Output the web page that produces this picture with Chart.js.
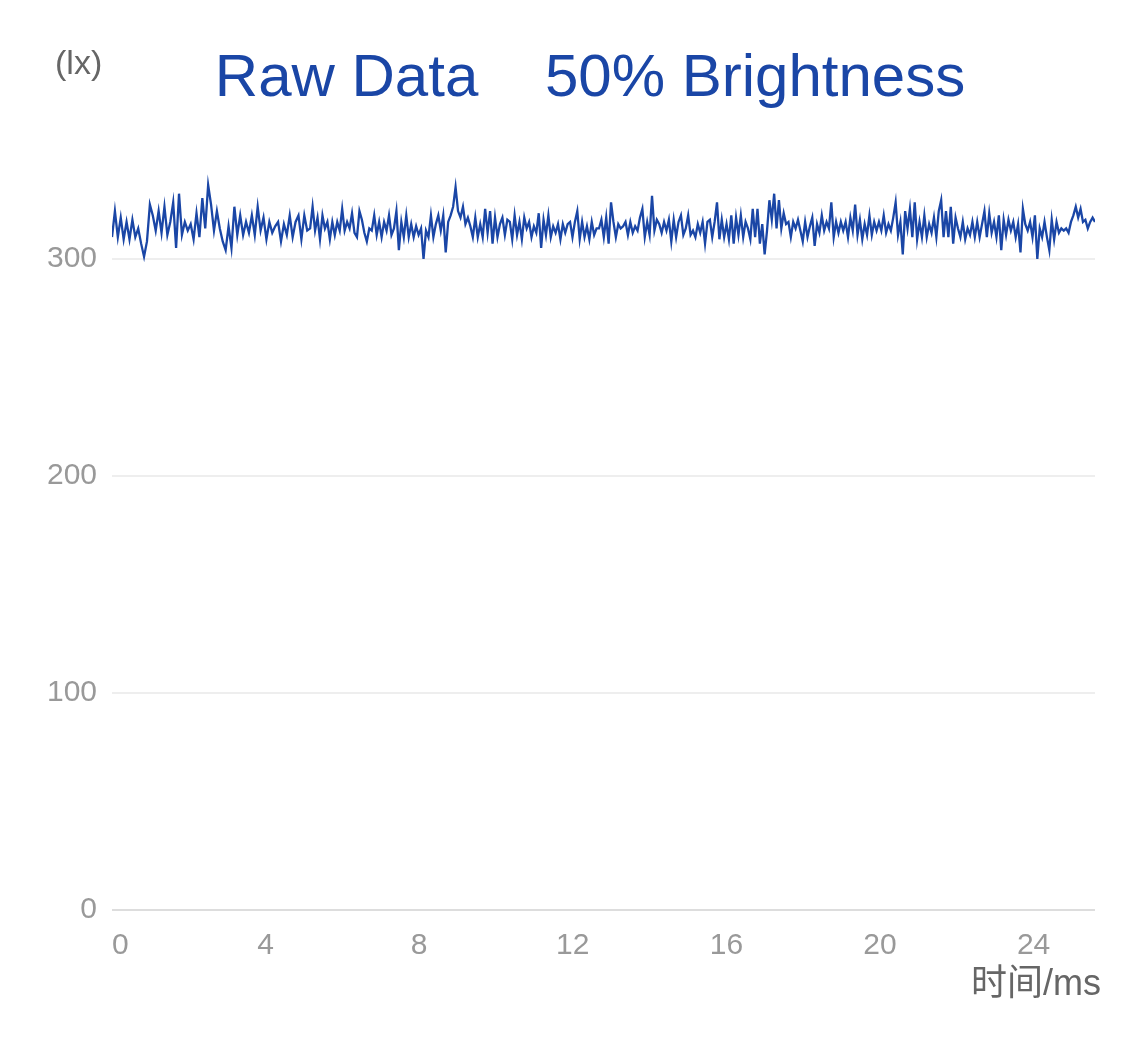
<!DOCTYPE html>
<html>
<head>
<meta charset="utf-8">
<script src="https://cdn.jsdelivr.net/npm/chart.js@4.4.0/dist/chart.umd.min.js"></script>
<style>
html, body { margin: 0; padding: 0; background: #fff; }
#wrap { width: 1125px; height: 1040px; position: relative; }
</style>
</head>
<body>
<div id="wrap"><canvas id="chart_canvas"></canvas></div>
<script>
var titleText = 'Raw Data    50% Brightness';
var yUnit = '(lx)';
var xUnit = '时间/ms';
var xTicks = [0, 4, 8, 12, 16, 20, 24];
var yTicks = [0, 100, 200, 300];
var xMax = 25.6;
var yMax = 340;

// each segment of readings covers the time span between two bounds (ms)
var segBounds = [0, 5.16, 10.36, 15.57, 20.78, 25.6];
var seg1 = [310,322,310,319,309,317,309,318,310,314,307,301,308,325,320,313,322,312,324,311,
            317,326,305,330,311,317,313,316,309,321,310,328,314,334,325,313,322,314,308,304,
            315,305,324,311,320,311,317,312,320,311,324,313,319,309,317,312,315,317,308,316,
            311,320,310,317,320,309,320,313];
var seg2 = [314,324,313,319,309,320,314,317,309,317,311,317,313,323,313,317,314,321,312,310,
            322,318,312,308,314,313,320,311,317,310,317,313,320,311,314,322,304,317,310,320,
            310,316,310,315,311,314,300,313,310,320,310,316,320,313,320,303,317,320,324,333,
            322,319,324,316,319,315,310,319,310,316,310,323,312,322,307,319,310,316,319,311,
            318];
var seg3 = [317,309,320,311,317,309,319,314,317,310,315,312,321,305,318,311,320,310,315,312,
            316,309,316,312,316,317,310,317,322,309,317,310,315,309,317,311,314,314,318,310,
            319,307,326,317,310,316,314,315,317,311,317,312,315,313,319,323,310,317,311,329,
            313,318,316,312,317,313,318,308,318,310,317,320,311,314,320,311,313,310,316,312,
            317,307,317];
var seg4 = [318,310,317,326,309,318,310,316,309,320,307,319,311,320,310,317,314,309,323,310,
            323,307,316,302,313,327,318,330,314,327,314,321,316,317,310,317,314,318,313,308,
            317,310,315,319,306,316,312,320,313,317,314,326,310,317,312,317,313,317,310,319,
            313,325,311,318,309,316,311,320,311,317,313,317,313,320,312,316,313,319,326,311,
            317,302,322,314];
var seg5 = [323,310,326,309,317,310,320,310,316,312,319,310,322,327,310,322,310,324,307,319,
            314,310,317,309,314,311,317,310,317,310,316,322,310,321,312,317,310,320,304,318,
            311,318,313,317,310,316,303,323,316,313,317,310,320,300,314,310,317,310,304,318,
            309,317,312,314,313,314,312,317,320,324,319,323,317,318,314,317,319,317];
var segments = [seg1, seg2, seg3, seg4, seg5];

var points = [];
segments.forEach(function(seg, s){
    var start = segBounds[s];
    var end = segBounds[s + 1];
    var n = (s === segments.length - 1) ? seg.length - 1 : seg.length;
    for (var i = 0; i < seg.length; i++) {
        points.push({ x: start + (end - start) * i / n, y: seg[i] });
    }
});

var textPlugin = {
    id: 'textPlugin',
    afterDraw: function(chart){
        var ctx = chart.ctx;
        ctx.save();
        ctx.textBaseline = 'alphabetic';
        ctx.fillStyle = '#1a46a6';
        ctx.font = '60px "Liberation Sans", Arial, sans-serif';
        ctx.textAlign = 'center';
        ctx.fillText(titleText, 590, 96);
        ctx.fillStyle = '#666666';
        ctx.font = '34px "Liberation Sans", Arial, sans-serif';
        ctx.textAlign = 'left';
        ctx.fillText(yUnit, 55, 74);
        ctx.font = '36px "Liberation Sans", "Noto Sans CJK SC", sans-serif';
        ctx.textAlign = 'right';
        ctx.fillText(xUnit, 1101, 995);
        ctx.restore();
    }
};

var tickFont = { size: 30, family: '"Liberation Sans", Arial, sans-serif' };

var canvas = document.getElementById('chart_canvas');
var ctx = canvas.getContext('2d');
var raw_chart = new Chart(ctx, {
    type: 'line',
    data: {
        datasets: [{
            label: 'Raw Data',
            data: points,
            borderColor: '#1a46a6',
            borderWidth: 2.3,
            pointRadius: 0,
            tension: 0,
            fill: false
        }]
    },
    options: {
        responsive: true,
        maintainAspectRatio: false,
        animation: false,
        layout: { padding: { top: 172, right: 30, left: 0, bottom: 0 } },
        plugins: {
            legend: { display: false },
            title: { display: false },
            tooltip: { enabled: false }
        },
        scales: {
            x: {
                type: 'linear',
                min: 0,
                max: xMax,
                afterFit: function(s){ s.height = 130; },
                afterBuildTicks: function(s){
                    s.ticks = xTicks.map(function(v){ return { value: v }; });
                },
                border: { display: false },
                grid: { display: false },
                ticks: {
                    autoSkip: false,
                    maxRotation: 0,
                    padding: 10,
                    color: '#999999',
                    font: tickFont,
                    callback: function(v){ return v === 0 ? '  0' : String(v); }
                }
            },
            y: {
                min: 0,
                max: yMax,
                afterFit: function(s){ s.width = 112; },
                afterBuildTicks: function(s){
                    s.ticks = yTicks.map(function(v){ return { value: v }; });
                },
                border: { display: false },
                grid: {
                    drawTicks: false,
                    lineWidth: 2,
                    color: function(c){ return c.tick && c.tick.value === 0 ? '#dddddd' : '#eeeeee'; }
                },
                ticks: {
                    padding: 15,
                    color: '#999999',
                    font: tickFont
                }
            }
        }
    },
    plugins: [textPlugin]
});
</script>
</body>
</html>
